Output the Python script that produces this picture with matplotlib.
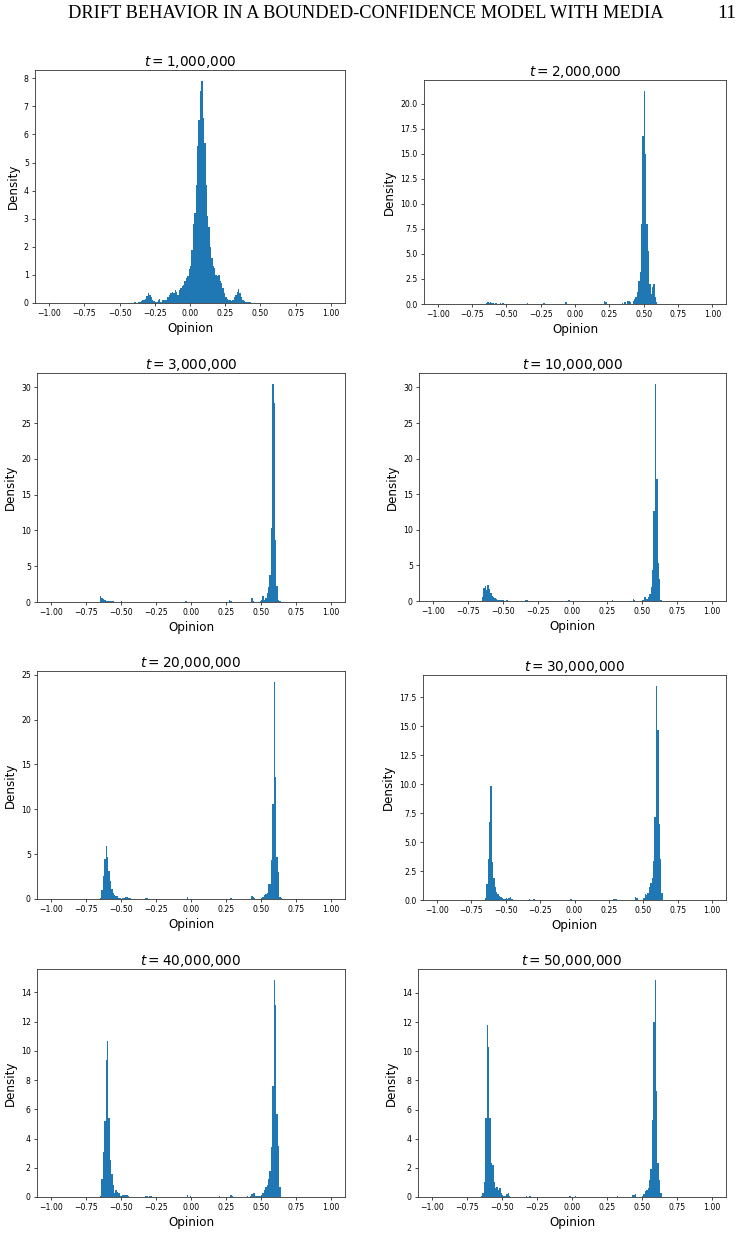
import numpy as np
import matplotlib
matplotlib.use('Agg')
from matplotlib import pyplot as plt

# histogram bins: 200 bins on [-1, 1]
edges = np.linspace(-1, 1, 201)

# each run: left edge of first bin, then densities of consecutive bins (width 0.01)
# t = 1,000,000
run1_start = -0.40
run1 = [0.02, 0.03, 0.0, 0.03, 0.05, 0.08, 0.1, 0.12, 0.15, 0.25,
        0.35, 0.3, 0.2, 0.12, 0.08, 0.05, 0.03, 0.1, 0.15, 0.05,
        0.1, 0.1, 0.1, 0.12, 0.2, 0.3, 0.35, 0.4, 0.35, 0.45,
        0.4, 0.3, 0.45, 0.55, 0.6, 0.65, 0.8, 0.9, 0.95, 1.2,
        1.3, 1.9, 2.8, 3.2, 4.2, 5.6, 6.5, 7.55, 7.9, 6.6,
        5.7, 4.2, 3.1, 2.7, 2.0, 1.6, 1.3, 1.25, 1.0, 0.95,
        1.0, 0.8, 0.7, 0.55, 0.35, 0.2, 0.15, 0.1, 0.12, 0.08,
        0.1, 0.2, 0.3, 0.4, 0.5, 0.35, 0.2, 0.12, 0.08, 0.05,
        0.04, 0.03, 0.02, 0.01]

# t = 2,000,000
run2_start = 0.42
run2 = [0.3, 0.5, 0.7, 1.2, 2.3, 3.2, 8.0, 16.8, 21.3, 15.0,
        8.0, 5.3, 2.0, 1.0, 1.7, 2.0, 0.7, 0.2]
stray2_x = [-0.65, -0.64, -0.63, -0.62, -0.61, -0.60, -0.58, -0.55, -0.53,
            -0.35, -0.23, -0.07, 0.21, 0.22, 0.34, 0.36, 0.38, 0.39, 0.40]
stray2_d = [0.1, 0.15, 0.12, 0.15, 0.1, 0.08, 0.05, 0.05, 0.08,
            0.05, 0.05, 0.15, 0.3, 0.15, 0.1, 0.2, 0.3, 0.25, 0.2]

# t = 3,000,000
left3_start = -0.65
left3 = [0.8, 0.5, 0.35, 0.25, 0.2, 0.15, 0.12, 0.1, 0.1, 0.08,
         0.06, 0.05, 0.05, 0.04, 0.05, 0.1, 0.05]
right3_start = 0.49
right3 = [0.1, 0.3, 0.9, 0.3, 0.5, 1.3, 2.1, 3.8, 10.3, 30.5,
          27.8, 8.7, 2.2, 0.3, 0.15]
stray3_x = [-0.40, -0.33, -0.04, -0.03, 0.27, 0.28, 0.43, 0.44]
stray3_d = [0.03, 0.04, 0.1, 0.05, 0.25, 0.1, 0.5, 0.2]

# t = 10,000,000
left4_start = -0.66
left4 = [0.05, 0.5, 1.8, 2.1, 1.5, 2.2, 1.7, 1.1, 0.75, 0.5,
         0.4, 0.3, 0.2, 0.2, 0.15, 0.2, 0.1, 0.05, 0.1, 0.2, 0.05]
right4_start = 0.49
right4 = [0.05, 0.2, 0.5, 0.6, 0.3, 0.5, 1.0, 1.9, 4.4, 12.7,
          30.5, 17.1, 5.3, 3.1, 0.1]
stray4_x = [-0.34, -0.33, -0.03, 0.28, 0.43, 0.44]
stray4_d = [0.08, 0.1, 0.1, 0.2, 0.25, 0.2]

# t = 20,000,000
left5_start = -0.65
left5 = [0.15, 1.0, 2.6, 4.5, 5.9, 4.7, 3.1, 2.0, 1.1, 0.7,
         0.45, 0.35, 0.3, 0.15, 0.08, 0.05, 0.08, 0.15, 0.25, 0.25,
         0.1, 0.08, 0.05]
right5_start = 0.49
right5 = [0.05, 0.1, 0.2, 0.4, 0.6, 0.7, 1.7, 1.7, 4.4, 10.6,
          24.2, 13.6, 4.7, 3.0, 0.2, 0.1]
stray5_x = [-0.38, -0.33, -0.32, -0.03, 0.28, 0.37, 0.43, 0.44, 0.45]
stray5_d = [0.05, 0.15, 0.1, 0.2, 0.15, 0.05, 0.3, 0.25, 0.15]

# t = 30,000,000
left6_start = -0.65
left6 = [0.2, 1.4, 3.5, 6.7, 9.8, 3.3, 1.9, 1.1, 0.7, 0.5,
         0.35, 0.25, 0.2, 0.1, 0.05, 0.15, 0.1, 0.2, 0.25, 0.1]
right6_start = 0.50
right6 = [0.15, 0.5, 0.45, 0.6, 1.15, 1.5, 1.9, 3.4, 7.2, 18.5,
          14.7, 6.6, 3.5, 0.6]
stray6_x = [-0.33, -0.30, -0.03, 0.28, 0.29, 0.30, 0.44, 0.45]
stray6_d = [0.1, 0.1, 0.1, 0.12, 0.1, 0.12, 0.25, 0.2]

# t = 40,000,000
left7_start = -0.65
left7 = [0.1, 1.2, 3.1, 5.2, 9.4, 10.7, 5.4, 2.55, 1.6, 0.85,
         0.3, 0.45, 0.35, 0.25, 0.1, 0.05, 0.15, 0.15, 0.15, 0.15, 0.1]
right7_start = 0.47
right7 = [0.05, 0.05, 0.1, 0.15, 0.3, 0.45, 0.65, 0.85, 1.2, 1.8,
          3.4, 7.6, 14.85, 13.1, 5.7, 3.5, 0.7]
stray7_x = [-0.33, -0.32, -0.30, -0.29, -0.03, -0.01, 0.20, 0.28, 0.29,
            0.40, 0.42, 0.43, 0.44, 0.45, 0.46]
stray7_d = [0.08, 0.08, 0.08, 0.08, 0.15, 0.05, 0.05, 0.15, 0.1,
            0.05, 0.1, 0.2, 0.3, 0.3, 0.1]

# t = 50,000,000
left8_start = -0.65
left8 = [0.1, 0.3, 1.0, 5.4, 11.8, 10.3, 5.4, 2.3, 2.2, 1.0,
         0.6, 0.7, 0.5, 0.6, 0.25, 0.15, 0.1, 0.1, 0.2, 0.25, 0.05]
right8_start = 0.50
right8 = [0.1, 0.2, 0.4, 0.5, 0.6, 1.2, 1.9, 5.3, 12.0, 14.9,
          7.3, 2.3, 1.2, 0.25]
stray8_x = [-0.33, -0.31, -0.30, -0.02, 0.02, 0.32, 0.43, 0.44, 0.45]
stray8_d = [0.05, 0.05, 0.05, 0.05, 0.1, 0.05, 0.15, 0.15, 0.2]

times = [1_000_000, 2_000_000, 3_000_000, 10_000_000,
         20_000_000, 30_000_000, 40_000_000, 50_000_000]


def run(start, dens):
    x = start + 0.01 * np.arange(len(dens)) + 0.005
    return list(x), list(dens)


def stray(xs, ds):
    return [v + 0.005 for v in xs], list(ds)


def collect(*parts):
    x, d = [], []
    for px, pd in parts:
        x += px
        d += pd
    return np.array(x), np.array(d)


panels = [
    collect(run(run1_start, run1)),
    collect(run(run2_start, run2), stray(stray2_x, stray2_d)),
    collect(run(left3_start, left3), run(right3_start, right3), stray(stray3_x, stray3_d)),
    collect(run(left4_start, left4), run(right4_start, right4), stray(stray4_x, stray4_d)),
    collect(run(left5_start, left5), run(right5_start, right5), stray(stray5_x, stray5_d)),
    collect(run(left6_start, left6), run(right6_start, right6), stray(stray6_x, stray6_d)),
    collect(run(left7_start, left7), run(right7_start, right7), stray(stray7_x, stray7_d)),
    collect(run(left8_start, left8), run(right8_start, right8), stray(stray8_x, stray8_d)),
]

W, H = 742, 1234
# axes boxes in pixels: left, top, width, height
boxes = [
    (35, 70, 310, 233), (424, 80, 302, 224),
    (37, 373, 308, 229), (419, 373, 307, 228),
    (37, 671, 308, 228), (423, 675, 303, 225),
    (37, 969, 308, 228), (418, 969, 308, 228),
]

fig = plt.figure(figsize=(W / 100, H / 100), dpi=100)

fig.text(366 / W, 1 - 14 / H, 'DRIFT BEHAVIOR IN A BOUNDED-CONFIDENCE MODEL WITH MEDIA',
         ha='center', va='center', family='Liberation Serif', fontsize=13.2)
fig.text(736 / W, 1 - 14 / H, '11', ha='right', va='center',
         family='Liberation Serif', fontsize=14)

for (l, t, w, h), (x, d), n in zip(boxes, panels, times):
    ax = fig.add_axes([l / W, 1 - (t + h) / H, w / W, h / H])
    ax.hist(x, bins=edges, weights=d, color='#1f77b4')
    label = f'{n:,}'.replace(',', '{,}')
    ax.set_title(f'$t = {label}$', fontsize=9.8, pad=3)
    ax.set_xlabel('Opinion', fontsize=8.6, labelpad=3)
    ax.set_ylabel('Density', fontsize=8.6, labelpad=3)
    ax.tick_params(labelsize=5.6, length=2, width=0.5, pad=2.5)
    for s in ax.spines.values():
        s.set_linewidth(0.6)
        s.set_color('#333333')

fig.savefig('out.png', dpi=100)
